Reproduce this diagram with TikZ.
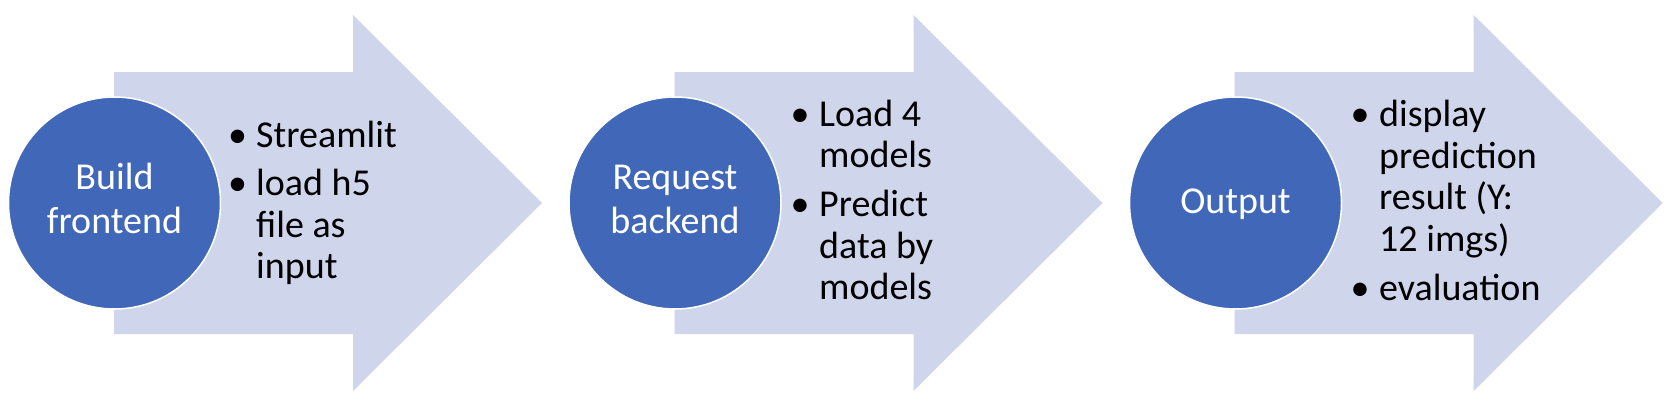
\documentclass[tikz,border=0pt]{standalone}
\usepackage{fontspec}
\setmainfont{Carlito}
\definecolor{arrowfill}{HTML}{CFD5EA}
\definecolor{circblue}{HTML}{4067B8}
\begin{document}
\begin{tikzpicture}[x=1pt,y=-1pt,
  bigarrow/.style={fill=arrowfill},
  circ/.style={circle, fill=circblue, draw=white, line width=1.5pt, minimum size=212pt, inner sep=0pt},
  ctxt/.style={anchor=base, inner sep=0pt, text=white, font=\fontsize{38}{44}\selectfont},
  txt/.style={anchor=base west, inner sep=0pt, text=black, font=\fontsize{38}{42}\selectfont},
  bul/.style={anchor=base, inner sep=0pt, text=black, font=\fontsize{38}{42}\selectfont}]
\useasboundingbox (0,0) rectangle (1670,410);
% arrows
\foreach \s in {114,674.5,1234.7}{
  \fill[bigarrow] (\s,72) -- (\s+239,72) -- (\s+239,15) -- (\s+428,203) -- (\s+239,391) -- (\s+239,334) -- (\s,334) -- cycle;
}
% circles
\node[circ] (c1) at (114.5,203) {};
\node[circ] (c2) at (675,203) {};
\node[circ] (c3) at (1235.5,203) {};
% circle texts
\node[ctxt] (c1a) at (114.5,189.5) {Build};
\node[ctxt] (c1b) at (114.5,233.5) {frontend};
\node[ctxt] (c2a) at (675,189.5) {Request};
\node[ctxt] (c2b) at (675,233.5) {backend};
\node[ctxt] (c3a) at (1235.5,213) {Output};
% list 1
\node[bul] (b1a) at (237.5,147) {•};
\node[txt] (t1a) at (256,147) {Streamlit};
\node[bul] (b1b) at (237.5,195.5) {•};
\node[txt] (t1b) at (256,195.5) {load h5};
\node[txt] (t1c) at (256,237) {file as};
\node[txt] (t1d) at (256,278.5) {input};
% list 2
\node[bul] (b2a) at (800,126.5) {•};
\node[txt] (t2a) at (819,126.5) {Load 4};
\node[txt] (t2b) at (819,167) {models};
\node[bul] (b2b) at (800,216.5) {•};
\node[txt] (t2c) at (819,216.5) {Predict};
\node[txt] (t2d) at (819,258) {data by};
\node[txt] (t2e) at (819,299.5) {models};
% list 3
\node[bul] (b3a) at (1360,126.5) {•};
\node[txt] (t3a) at (1379,126.5) {display};
\node[txt] (t3b) at (1379,168) {prediction};
\node[txt] (t3c) at (1379,209.5) {result (Y:};
\node[txt] (t3d) at (1379,251) {12 imgs)};
\node[bul] (b3b) at (1360,300) {•};
\node[txt] (t3e) at (1379,300) {evaluation};
\end{tikzpicture}
\end{document}
